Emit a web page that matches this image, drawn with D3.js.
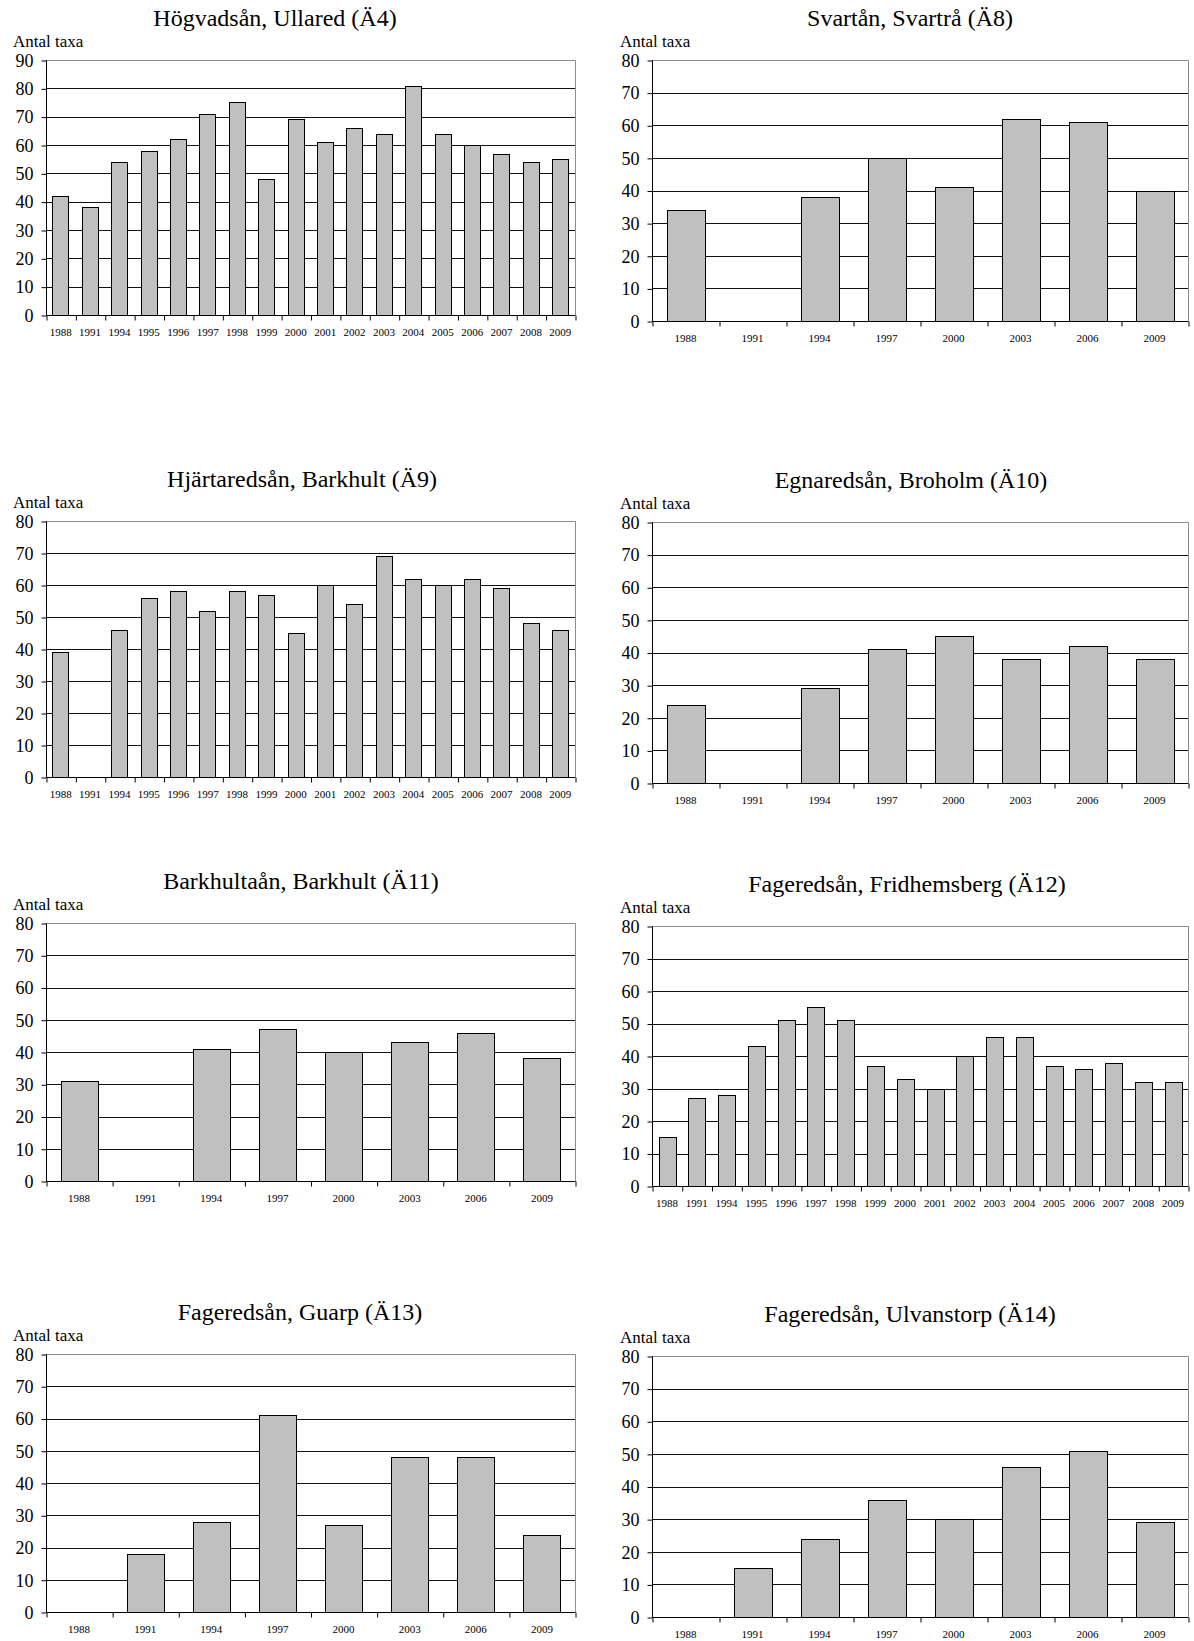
<!DOCTYPE html>
<html lang="sv">
<head>
<meta charset="utf-8">
<title>Antal taxa</title>
<script src="https://cdn.jsdelivr.net/npm/d3@7"></script>
<style>
  html, body { margin: 0; padding: 0; background: #fff; }
  svg { display: block; }
  text { font-family: "Liberation Serif", "Times New Roman", serif; fill: #000; }
</style>
</head>
<body>
<svg id="chart" width="1194" height="1641"></svg>
<script>
// Survey years
const yearsAll = ["1988","1991","1994","1995","1996","1997","1998","1999","2000","2001","2002","2003","2004","2005","2006","2007","2008","2009"];
const yearsTri = ["1988","1991","1994","1997","2000","2003","2006","2009"];

// Number of taxa per station (null = not sampled)
const hogvadsan    = [42,38,54,58,62,71,75,48,69,61,66,64,81,64,60,57,54,55];
const svartan      = [34,null,38,50,41,62,61,40];
const hjartaredsan = [39,null,46,56,58,52,58,57,45,60,54,69,62,60,62,59,48,46];
const egnaredsan   = [24,null,29,41,45,38,42,38];
const barkhultaan  = [31,null,41,47,40,43,46,38];
const fridhemsberg = [15,27,28,43,51,55,51,37,33,30,40,46,46,37,36,38,32,32];
const guarp        = [null,18,28,61,27,48,48,24];
const ulvanstorp   = [null,15,24,36,30,46,51,29];

const titles = [
  "Högvadsån, Ullared (Ä4)",
  "Svartån, Svartrå (Ä8)",
  "Hjärtaredsån, Barkhult (Ä9)",
  "Egnaredsån, Broholm (Ä10)",
  "Barkhultaån, Barkhult (Ä11)",
  "Fageredsån, Fridhemsberg (Ä12)",
  "Fageredsån, Guarp (Ä13)",
  "Fageredsån, Ulvanstorp (Ä14)"
];
const yMaxes = [90, 80, 80, 80, 80, 80, 80, 80];
const yLabel = "Antal taxa";

const series = [
  { years: yearsAll, values: hogvadsan },
  { years: yearsTri, values: svartan },
  { years: yearsAll, values: hjartaredsan },
  { years: yearsTri, values: egnaredsan },
  { years: yearsTri, values: barkhultaan },
  { years: yearsAll, values: fridhemsberg },
  { years: yearsTri, values: guarp },
  { years: yearsTri, values: ulvanstorp }
];

// Panel geometry: plot frame edges and title centre
const layout = [
  { left: 46,  right: 575,  top: 60,   bottom: 315,  titleX: 275 },
  { left: 652, right: 1188, top: 60,   bottom: 321,  titleX: 910 },
  { left: 46,  right: 575,  top: 521,  bottom: 777,  titleX: 302 },
  { left: 652, right: 1188, top: 522,  bottom: 783,  titleX: 911 },
  { left: 46,  right: 575,  top: 923,  bottom: 1181, titleX: 301 },
  { left: 652, right: 1188, top: 926,  bottom: 1186, titleX: 907 },
  { left: 46,  right: 575,  top: 1354, bottom: 1612, titleX: 300 },
  { left: 652, right: 1188, top: 1356, bottom: 1617, titleX: 910 }
];

const svg = d3.select("#chart");
const barRatio = 0.44; // share of each category left empty

series.forEach((s, i) => {
  const L = layout[i];
  const g = svg.append("g");
  const data = s.years.map((y, k) => ({ year: y, value: s.values[k] }));

  const x = d3.scaleBand()
    .domain(s.years)
    .range([L.left, L.right])
    .paddingInner(barRatio)
    .paddingOuter(barRatio / 2);
  const xEdge = d3.scaleLinear().domain([0, s.years.length]).range([L.left, L.right]);
  const y = d3.scaleLinear().domain([0, yMaxes[i]]).range([L.bottom, L.top]);

  // Title and axis caption
  g.append("text")
    .attr("x", L.titleX).attr("y", L.top - 34)
    .attr("text-anchor", "middle")
    .style("font-size", "24px")
    .text(titles[i]);
  g.append("text")
    .attr("x", L.left < 300 ? 13 : 620).attr("y", L.top - 13)
    .style("font-size", "17px")
    .text(yLabel);

  // Frame (top and right) in grey
  g.append("path")
    .attr("d", `M${L.left},${Math.round(y(yMaxes[i])) + 0.5}H${L.right + 0.5}V${L.bottom}`)
    .attr("fill", "none").attr("stroke", "#8c8c8c").attr("stroke-width", 1);

  // Horizontal gridlines
  const gridVals = d3.range(10, yMaxes[i], 10);
  g.append("g").selectAll("line").data(gridVals).join("line")
    .attr("x1", L.left).attr("x2", L.right)
    .attr("y1", d => Math.round(y(d)) + 0.5).attr("y2", d => Math.round(y(d)) + 0.5)
    .attr("stroke", "#111").attr("stroke-width", 1);

  // Bars
  g.append("g").selectAll("rect").data(data.filter(d => d.value != null)).join("rect")
    .attr("x", d => Math.round(x(d.year)) + 0.5)
    .attr("y", d => Math.round(y(d.value)) + 0.5)
    .attr("width", Math.round(x.bandwidth()))
    .attr("height", d => Math.round(y(0)) - Math.round(y(d.value)))
    .attr("fill", "#c0c0c0")
    .attr("stroke", "#000").attr("stroke-width", 1);

  // Y axis
  const yAxis = g.append("g")
    .attr("transform", `translate(${L.left + 0.5},0.5)`)
    .call(d3.axisLeft(y).tickValues(d3.range(0, yMaxes[i] + 1, 10)).tickSize(5).tickPadding(8).tickFormat(d3.format("d")));
  yAxis.select(".domain").attr("stroke", "#000").attr("d", `M0,${y(yMaxes[i])}V${y(0)}`);
  yAxis.selectAll(".tick line").attr("stroke", "#000");
  yAxis.selectAll(".tick text")
    .style("font-family", "'Liberation Serif', 'Times New Roman', serif")
    .style("font-size", "18px").attr("fill", "#000");

  // X axis: year labels under each category, ticks at category boundaries
  const xTicks = g.append("g")
    .attr("transform", `translate(0.5,${Math.round(y(0)) + 0.5})`)
    .call(d3.axisBottom(xEdge).tickValues(d3.range(0, s.years.length + 1)).tickSize(5).tickFormat(""));
  xTicks.select(".domain").attr("stroke", "#000").attr("d", `M${L.left},0H${L.right}`);
  xTicks.selectAll(".tick line").attr("stroke", "#000");

  const xLabels = g.append("g")
    .attr("transform", `translate(0,${Math.round(y(0))})`)
    .call(d3.axisBottom(x).tickSize(0).tickPadding(13));
  xLabels.select(".domain").remove();
  xLabels.selectAll(".tick text")
    .style("font-family", "'Liberation Serif', 'Times New Roman', serif")
    .style("font-size", "11px").attr("fill", "#000");
});
</script>
</body>
</html>
